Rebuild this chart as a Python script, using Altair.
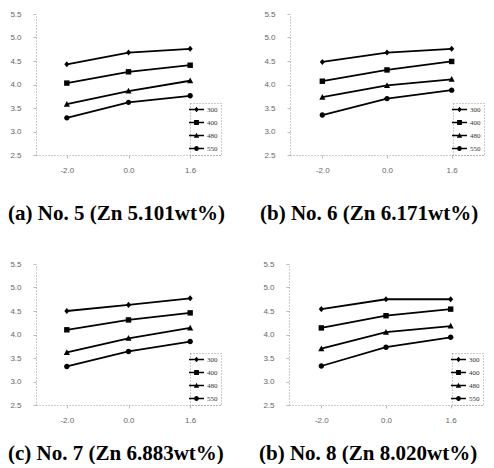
import altair as alt
import pandas as pd

x_labels = ["-2.0", "0.0", "1.6"]
temps = ["300", "400", "480", "550"]

# panel (a) No. 5
a_300 = [4.43, 4.68, 4.76]
a_400 = [4.03, 4.27, 4.41]
a_480 = [3.58, 3.86, 4.08]
a_550 = [3.29, 3.62, 3.76]
# panel (b) No. 6
b_300 = [4.48, 4.68, 4.76]
b_400 = [4.07, 4.31, 4.49]
b_480 = [3.73, 3.98, 4.11]
b_550 = [3.35, 3.70, 3.88]
# panel (c) No. 7
c_300 = [4.50, 4.63, 4.77]
c_400 = [4.10, 4.31, 4.46]
c_480 = [3.62, 3.92, 4.14]
c_550 = [3.32, 3.64, 3.85]
# panel (d) No. 8
d_300 = [4.54, 4.75, 4.75]
d_400 = [4.14, 4.40, 4.54]
d_480 = [3.70, 4.05, 4.18]
d_550 = [3.33, 3.73, 3.94]

captions = [
    "(a) No. 5 (Zn 5.101wt%)",
    "(b) No. 6 (Zn 6.171wt%)",
    "(c) No. 7 (Zn 6.883wt%)",
    "(b) No. 8 (Zn 8.020wt%)",
]
y_ticks = [2.5, 3.0, 3.5, 4.0, 4.5, 5.0, 5.5]

# marker shapes (unit box)
MARKERS = [
    "M0,-0.9L0.75,0L0,0.9L-0.75,0Z",
    "M-0.8,-0.8H0.8V0.8H-0.8Z",
    "M0,-0.95L0.9,0.75H-0.9Z",
    "M0.8,0A0.8,0.8,0,1,1,-0.8,0A0.8,0.8,0,1,1,0.8,0Z",
]
# legend symbols: a short line with the marker on it
LEG_LINE = "M-2.5,-0.26H2.5V0.26H-2.5Z"
LEGEND_SHAPES = [LEG_LINE + m for m in MARKERS]


def frame(series):
    rows = []
    for t, vals in zip(temps, series):
        for xl, v in zip(x_labels, vals):
            rows.append({"temp": t, "x": xl, "y": v})
    return pd.DataFrame(rows)


def panel(series, caption, width, dx, offset):
    df = frame(series)
    base = alt.Chart(df)
    x = alt.X("x:O", sort=x_labels, scale=alt.Scale(padding=0.5),
              axis=alt.Axis(labelAngle=0, labelPadding=8, title=None))
    y = alt.Y("y:Q", scale=alt.Scale(domain=[2.5, 5.5], nice=False, zero=False),
              axis=alt.Axis(values=y_ticks, format=".1f", labelPadding=12, title=None))
    line = base.mark_line(color="black", strokeWidth=1.8).encode(x=x, y=y, detail="temp:N")
    pts = base.mark_point(filled=True, size=46, color="black", opacity=1).encode(
        x=x, y=y,
        shape=alt.Shape("temp:N", scale=alt.Scale(domain=temps, range=MARKERS), legend=None),
    )
    leg = base.transform_filter("false").mark_point(filled=True, size=36, color="black", opacity=1).encode(
        x=x, y=y,
        shape=alt.Shape("temp:N", scale=alt.Scale(domain=temps, range=LEGEND_SHAPES),
                        legend=alt.Legend(title=None, orient="bottom-right", offset=0,
                                          symbolSize=36, symbolStrokeWidth=0, symbolOpacity=1,
                                          labelFont="Liberation Serif", labelFontSize=7,
                                          labelColor="#333", labelOffset=7, rowPadding=5,
                                          padding=3, strokeColor="#999")),
    )
    return alt.layer(line, pts, leg).resolve_scale(shape="independent").properties(
        width=width, height=141,
        title=alt.TitleParams(caption, orient="bottom", anchor="start", frame="group",
                              font="Liberation Serif", fontSize=21, fontWeight="bold",
                              color="black", offset=offset, dx=dx),
    )


pa = panel([a_300, a_400, a_480, a_550], captions[0], 185, -28, 29)
pb = panel([b_300, b_400, b_480, b_550], captions[1], 194, -30, 29)
pc = panel([c_300, c_400, c_480, c_550], captions[2], 185, -28, 19)
pd_ = panel([d_300, d_400, d_480, d_550], captions[3], 194, -30, 19)

row1 = alt.hconcat(pa, pb, spacing=35).resolve_scale(shape="independent").resolve_legend(shape="independent")
row2 = alt.hconcat(pc, pd_, spacing=35).resolve_scale(shape="independent").resolve_legend(shape="independent")

chart = alt.vconcat(row1, row2, spacing=36).resolve_scale(
    shape="independent"
).resolve_legend(shape="independent").properties(
    padding={"left": 0, "top": 2, "right": 0, "bottom": 0}
).configure_view(stroke=None).configure_axis(
    grid=False, domainColor="#999", domainDash=[1, 2], tickColor="#bbb", tickSize=3,
    labelColor="#666", labelFont="Liberation Sans", labelFontSize=8,
).configure_legend(strokeDash=[1, 2], strokeWidth=1)

chart.save("out.html", embed_options={"renderer": "svg", "actions": False})
